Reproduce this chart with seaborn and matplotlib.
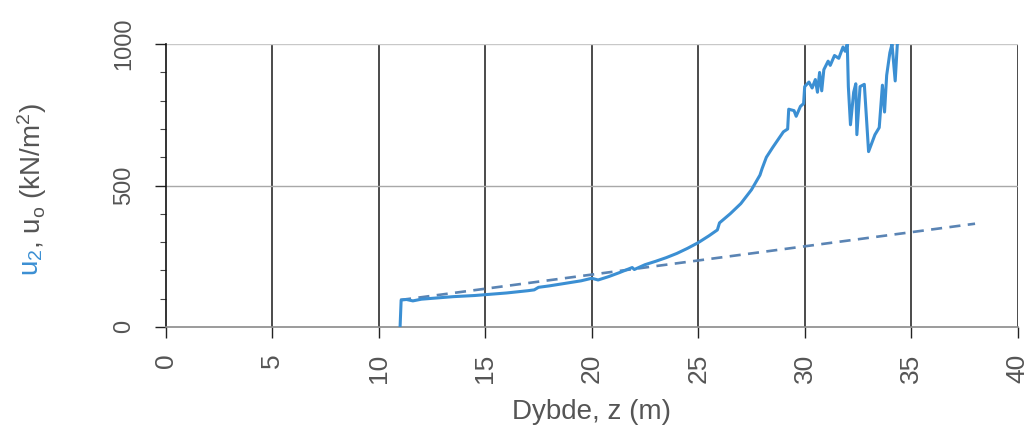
import matplotlib
matplotlib.use("Agg")
import matplotlib.pyplot as plt
import seaborn as sns
import pandas as pd
from matplotlib.ticker import MultipleLocator

# Measured excess pore pressure u2 along depth z
z_u2 = [11.0, 11.05, 11.3, 11.6, 12.0, 12.5, 13.0, 13.5, 14.0, 14.5, 15.0, 15.5,
        16.0, 16.5, 17.0, 17.3, 17.5, 18.0, 18.5, 19.0, 19.5, 20.0, 20.3, 20.8,
        21.3, 21.9, 22.0, 22.5, 23.0, 23.5, 24.0, 24.5, 25.0, 25.5, 25.9, 26.0,
        26.5, 27.0, 27.5, 27.9, 28.0, 28.2, 28.5, 29.0, 29.2, 29.25, 29.5, 29.6,
        29.8, 29.95, 30.0, 30.2, 30.35, 30.5, 30.6, 30.7, 30.8, 30.9, 31.1, 31.2,
        31.4, 31.6, 31.8, 31.9, 32.0, 32.05, 32.15, 32.3, 32.4, 32.45, 32.6, 32.8,
        32.9, 33.0, 33.3, 33.5, 33.65, 33.75, 33.85, 34.0, 34.1, 34.25, 34.35, 34.45]
u2 = [0, 95, 97, 92, 98, 101, 104, 107, 109, 111, 114, 117,
      120, 124, 128, 131, 140, 145, 151, 157, 163, 172, 166, 178,
      192, 210, 203, 220, 232, 245, 260, 278, 298, 322, 343, 368,
      400, 436, 485, 537, 560, 600, 635, 690, 700, 770, 765, 745,
      780, 790, 850, 866, 845, 875, 830, 900, 835, 910, 940, 925,
      960, 950, 990, 975, 1000, 850, 715, 830, 860, 680, 850, 858,
      740, 620, 680, 705, 855, 760, 890, 970, 1000, 870, 1000, 1010]

# Hydrostatic pore pressure u0
z_u0 = [11.0, 38.0]
u0 = [95, 365]

x_ticks = [0, 5, 10, 15, 20, 25, 30, 35, 40]
y_ticks = [0, 500, 1000]

sns.set_style("white")
plt.rcParams["font.family"] = ["Liberation Sans", "DejaVu Sans"]
plt.rcParams["mathtext.default"] = "regular"

df_u2 = pd.DataFrame({"z": z_u2, "u": u2})
df_u0 = pd.DataFrame({"z": z_u0, "u": u0})

fig = plt.figure(figsize=(10.30, 4.29), dpi=100)
ax = fig.add_axes([0.161, 0.238, 0.827, 0.659])

text_gray = "#555555"
blue = "#3b8fd3"

# grid lines
for xv in x_ticks[1:]:
    ax.axvline(xv, color="#1a1a1a", lw=1.1, zorder=1)
ax.axhline(500, color="#a8a8a8", lw=1.0, zorder=1)
ax.axhline(1000, color="#c8c8c8", lw=1.0, zorder=1)

sns.lineplot(data=df_u0, x="z", y="u", ax=ax, color="#5a84b4", lw=1.9,
             estimator=None, sort=False, zorder=3)
ax.lines[-1].set_dashes((4.2, 2.8))
sns.lineplot(data=df_u2, x="z", y="u", ax=ax, color=blue, lw=2.2,
             estimator=None, sort=False, zorder=4)

ax.set_xlim(0, 40)
ax.set_ylim(0, 1000)
ax.set_xticks(x_ticks)
ax.set_yticks(y_ticks)
ax.yaxis.set_minor_locator(MultipleLocator(100))
ax.set_xticklabels([str(v) for v in x_ticks], rotation=90, color=text_gray, fontsize=19)
ax.set_yticklabels([str(v) for v in y_ticks], rotation=90, va="center",
                   color=text_gray, fontsize=17)
ax.tick_params(axis="both", which="major", direction="out", length=8, width=1.0,
               color="#222222")
ax.tick_params(axis="y", which="minor", direction="out", length=4, width=0.8,
               color="#444444", left=True)
ax.tick_params(axis="x", which="major", pad=11, bottom=True)
ax.tick_params(axis="y", which="major", pad=14, left=True)

for side in ["top", "right"]:
    ax.spines[side].set_visible(False)
ax.spines["left"].set_color("#111111")
ax.spines["left"].set_linewidth(1.2)
ax.spines["bottom"].set_color("#8a8a8a")
ax.spines["bottom"].set_linewidth(1.2)

ax.set_xlabel("Dybde, z (m)", fontsize=20, color=text_gray, labelpad=12)
ax.set_ylabel("")

# two-coloured y label
t1 = fig.text(0.031, 0.356, "u$_2$", rotation=90, fontsize=20, color=blue,
              ha="center", va="bottom")
ax.annotate(", u$_o$ (kN/m$^2$)", xy=(0.5, 1.0), xycoords=t1, rotation=90,
            fontsize=20, color=text_gray, ha="center", va="bottom")

fig.savefig("out.png", dpi=100, facecolor="white")
